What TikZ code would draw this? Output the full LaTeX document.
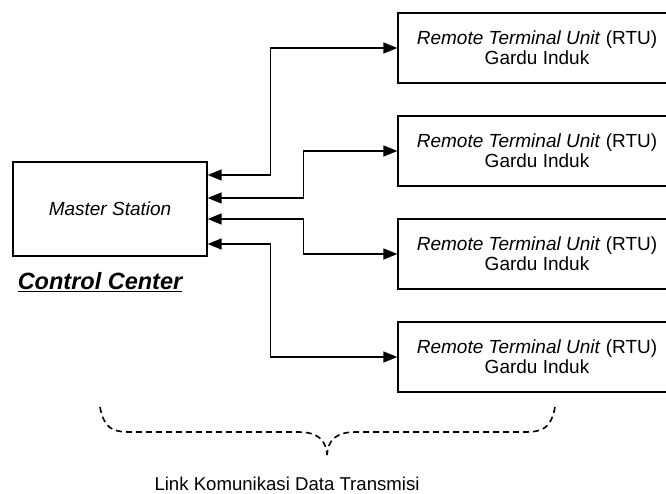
\documentclass[tikz,border=0pt]{standalone}
\usepackage{fontspec}
\setmainfont{Liberation Sans}
\usetikzlibrary{arrows.meta}
\begin{document}
\begin{tikzpicture}[
    x=1pt, y=-1pt,
    station/.style={draw, line width=1.3pt, minimum width=194pt, minimum height=94pt,
                    font=\fontsize{19}{20}\selectfont\itshape, align=center},
    rtu/.style={draw, line width=1.3pt, minimum width=278pt, minimum height=70pt,
                font=\fontsize{19}{20}\selectfont, align=center},
    link/.style={{Triangle[length=14pt,width=11pt]}-{Triangle[length=14pt,width=11pt]}, line width=1.4pt},
    brace/.style={dash pattern=on 6pt off 4pt, line width=1.6pt},
  ]
    \useasboundingbox (0,0) rectangle (666,494);
    \node[station] (master) at (110,209) {Master Station};
    \node[font=\fontsize{23.5}{26}\selectfont\bfseries\itshape] (cc) at (100,282) {\underline{Control Center}};
    \foreach \i/\y in {1/48, 2/151, 3/254, 4/357}
      \node[rtu] (rtu\i) at (537,\y) {\textit{Remote Terminal Unit} (RTU)\\Gardu Induk};

    % links between master station and the RTUs
    \draw[link] ([yshift=34pt]master.east) -- ++(63,0) |- (rtu1.west);
    \draw[link] ([yshift=11pt]master.east) -- ++(96,0) |- (rtu2.west);
    \draw[link] ([yshift=-10pt]master.east) -- ++(96,0) |- (rtu3.west);
    \draw[link] ([yshift=-35pt]master.east) -- ++(63,0) |- (rtu4.west);

    % dashed brace
    \coordinate (tip) at (327,455);
    \draw[brace] (100,407) .. controls (104,428) and (112,432) .. (130,432) -- (298,432)
      .. controls (318,432) and (326,440) .. (tip);
    \draw[brace] (555,407) .. controls (551,428) and (543,432) .. (525,432) -- (356,432)
      .. controls (336,432) and (328,440) .. (tip);
    \node[font=\fontsize{18.6}{20}\selectfont, anchor=base, inner sep=1pt] (lbl) at (287,490) {Link Komunikasi Data Transmisi};
  \end{tikzpicture}
\end{document}
